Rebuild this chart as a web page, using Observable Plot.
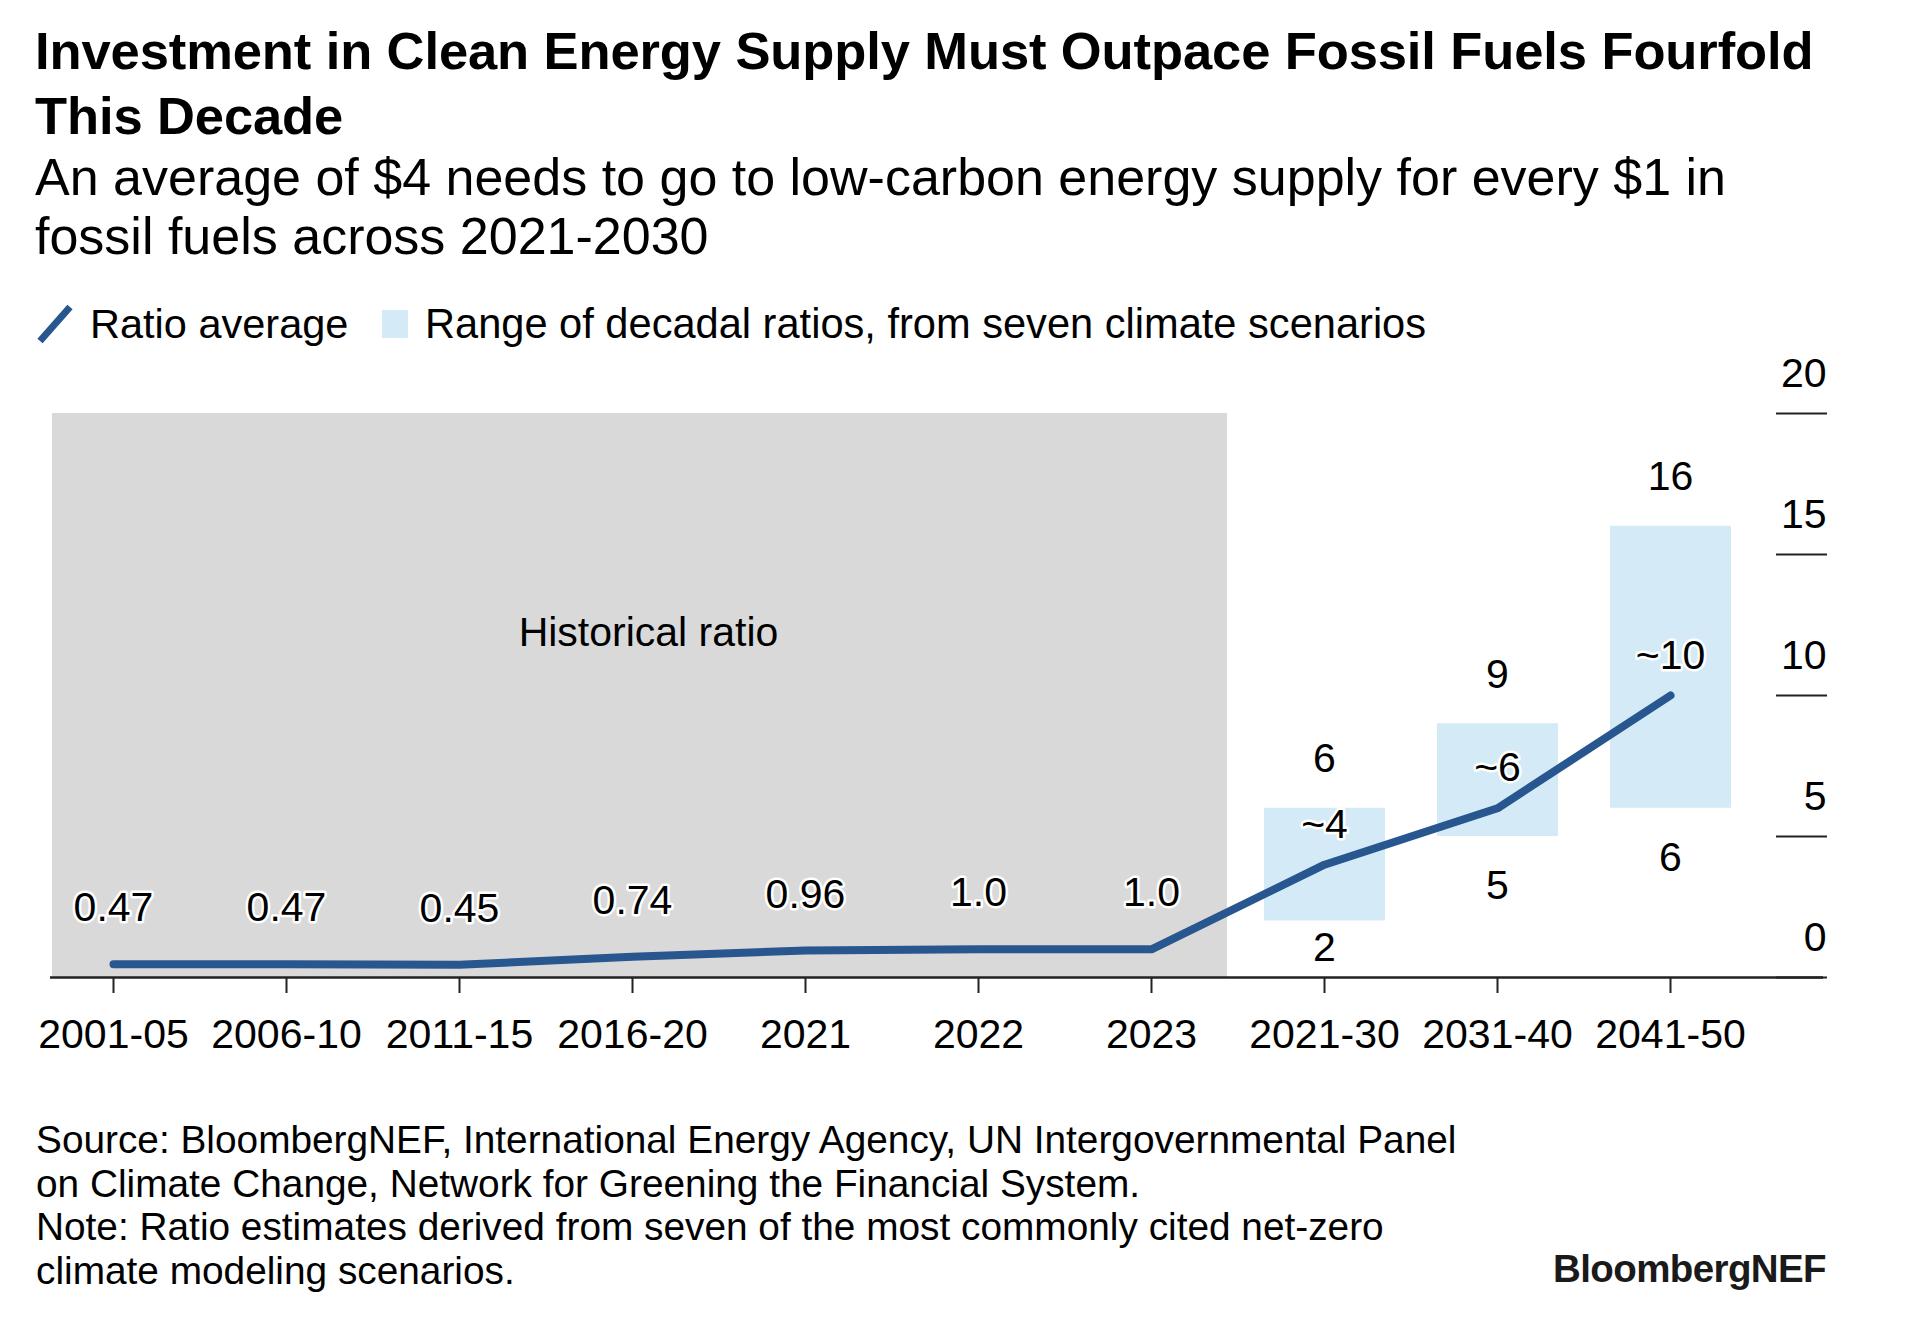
<!DOCTYPE html>
<html><head><meta charset="utf-8">
<script src="https://cdn.jsdelivr.net/npm/d3@7"></script>
<script src="https://cdn.jsdelivr.net/npm/@observablehq/plot@0.6"></script>
<style>
html,body{margin:0;padding:0;background:#fff;}
body{width:1928px;height:1338px;position:relative;font-family:"Liberation Sans",Arial,Helvetica,sans-serif;color:#000;overflow:hidden;}
.abs{position:absolute;white-space:nowrap;}
#title{left:35px;top:18px;font-size:52.5px;line-height:65px;font-weight:700;letter-spacing:-0.1px;}
#subtitle{left:35px;top:148px;font-size:52px;line-height:59px;}
#legend-line{left:36px;top:302px;}
#legend-sq{left:382px;top:310px;width:26px;height:28px;background:#d4eaf7;}
#legend-t1{left:90px;top:299px;font-size:41.5px;line-height:50px;}
#legend-t2{left:425px;top:299px;font-size:41.6px;line-height:50px;}
#chart{left:0;top:350px;}
#notes{left:36px;top:1118px;font-size:38.8px;line-height:43.5px;}
#brand{right:102px;top:1247px;font-size:38.5px;line-height:43.5px;font-weight:700;letter-spacing:-0.6px;color:#1a1a1a;}
</style>
</head>
<body>
<div id="title" class="abs">Investment in Clean Energy Supply Must Outpace Fossil Fuels Fourfold<br>This Decade</div>
<div id="subtitle" class="abs">An average of $4 needs to go to low-carbon energy supply for every $1 in<br>fossil fuels across 2021-2030</div>
<svg id="legend-line" class="abs" width="40" height="44"><line x1="4" y1="39" x2="34" y2="5" stroke="#28568f" stroke-width="7"/></svg>
<div id="legend-t1" class="abs">Ratio average</div>
<div id="legend-sq" class="abs"></div>
<div id="legend-t2" class="abs">Range of decadal ratios, from seven climate scenarios</div>
<div id="chart" class="abs"></div>
<div id="notes" class="abs">Source: BloombergNEF, International Energy Agency, UN Intergovernmental Panel<br>on Climate Change, Network for Greening the Financial System.<br>Note: Ratio estimates derived from seven of the most commonly cited net-zero<br>climate modeling scenarios.</div>
<div id="brand" class="abs">BloombergNEF</div>
<script>
// ---- data ----
const categories = ["2001-05","2006-10","2011-15","2016-20","2021","2022","2023","2021-30","2031-40","2041-50"];
const ratioAverage = [0.47, 0.47, 0.45, 0.74, 0.96, 1.0, 1.0, 4, 6, 10];
const ratioLabels = ["0.47","0.47","0.45","0.74","0.96","1.0","1.0","~4","~6","~10"];
const rangeCategories = ["2021-30","2031-40","2041-50"];
const rangeLow = [2, 5, 6];
const rangeHigh = [6, 9, 16];
const yTicks = [0, 5, 10, 15, 20];
const historicalSpan = {from: "2001-05", mid: "2016-20", to: "2023", label: "Historical ratio"};

// ---- tables ----
const rows = categories.map((c, i) => ({cat: c, avg: ratioAverage[i], label: ratioLabels[i], projected: rangeCategories.includes(c)}));
const ranges = rangeCategories.map((c, i) => ({cat: c, lo: rangeLow[i], hi: rangeHigh[i]}));

const BLUE = "#28568f";
const LIGHT = "#d4eaf7";
const GRAY = "#d9d9d9";
const FONT = "Liberation Sans, Arial, Helvetica, sans-serif";

const chart = Plot.plot({
  width: 1928,
  height: 740,
  marginTop: 63,
  marginBottom: 113,
  marginLeft: 50,
  marginRight: 105,
  x: {type: "point", domain: categories, range: [111, 1672], padding: 0},
  y: {domain: [0, 20]},
  style: {fontFamily: FONT, fontSize: "41px", color: "#000", background: "transparent"},
  marks: [
    Plot.rect([historicalSpan], {x1: "from", x2: "to", y1: 0, y2: 20, fill: GRAY, insetLeft: -61, insetRight: -76}),
    Plot.text([historicalSpan], {x: "mid", frameAnchor: "top", dy: 203, dx: 16, text: "label", fontSize: 41, fill: "#000"}),
    Plot.ruleX(ranges, {x: "cat", y1: "lo", y2: "hi", stroke: LIGHT, strokeWidth: 121}),
    Plot.ruleY([0], {stroke: "#222", strokeWidth: 2.5}),
    Plot.axisX({tickSize: 16, tickPadding: 25, fontSize: 41, strokeWidth: 2, stroke: "#222", fill: "#000", label: null}),
    Plot.line(rows, {x: "cat", y: "avg", stroke: BLUE, strokeWidth: 8}),
    Plot.text(rows.filter(d => !d.projected), {x: "cat", y: "avg", text: "label", dy: -56, fontSize: 41, fill: "#000", stroke: "white", strokeWidth: 5}),
    Plot.text(rows.filter(d => d.projected), {x: "cat", y: "avg", text: "label", dy: -40, fontSize: 41, fill: "#000", stroke: "white", strokeWidth: 5}),
    Plot.text(ranges, {x: "cat", y: "hi", text: d => String(d.hi), dy: -49, fontSize: 41, fill: "#000"}),
    Plot.text(ranges, {x: "cat", y: d => Math.max(d.lo - 1.75, 1.05), text: d => String(d.lo), fontSize: 41, fill: "#000"}),
    Plot.axisY(yTicks, {anchor: "right", tickSize: -51, dx: 3, fill: "none", stroke: "#222", strokeWidth: 2, label: null}),
    Plot.text(yTicks, {y: d => d, text: d => String(d), frameAnchor: "right", textAnchor: "end", dx: 3, dy: -40, fontSize: 41, fill: "#000"})
  ]
});
document.getElementById("chart").appendChild(chart);
</script>
</body></html>
